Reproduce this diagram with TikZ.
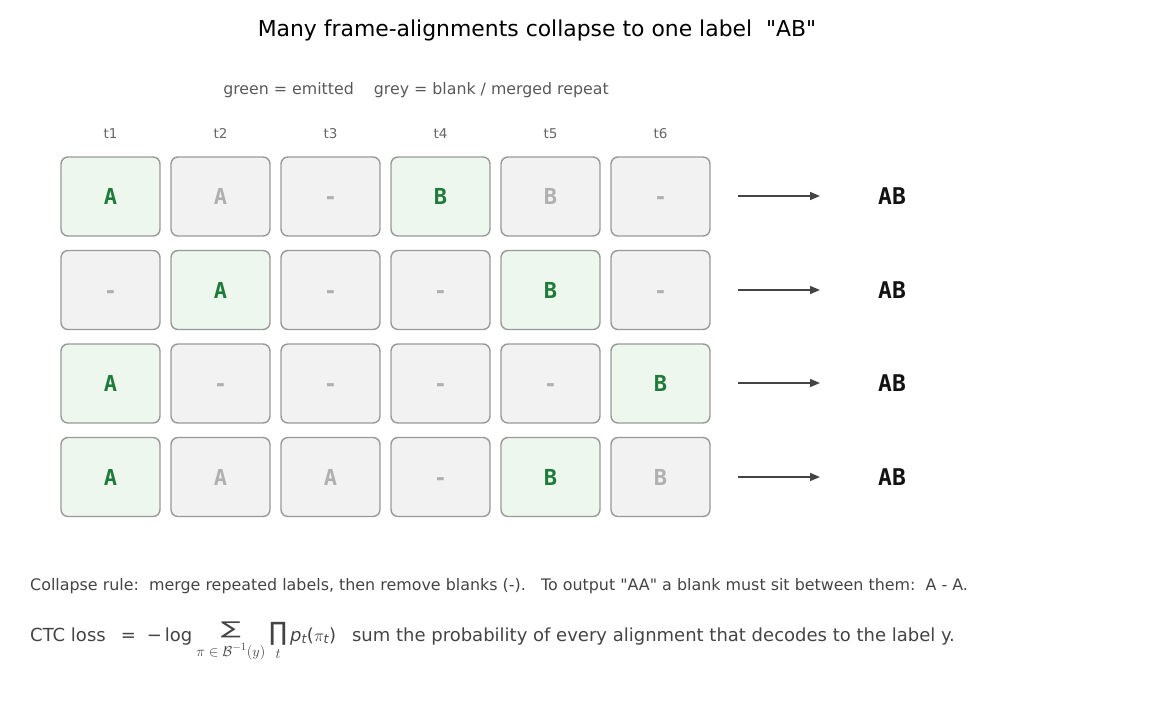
\documentclass[tikz,border=0pt]{standalone}
\usepackage{amsmath}
\usepackage{graphicx}
\usepackage{fontspec}
\setmainfont{DejaVu Sans}
\setmonofont{DejaVu Sans Mono}
\usetikzlibrary{arrows.meta}
\definecolor{emitfill}{HTML}{EDF7ED}
\definecolor{emittext}{HTML}{1E7B3A}
\definecolor{blankfill}{HTML}{F2F2F2}
\definecolor{cellline}{HTML}{999999}
\definecolor{blanktext}{HTML}{B0B0B0}
\definecolor{notetext}{HTML}{444444}
\newcommand{\bigsumop}{\mathop{\raisebox{3pt}[19pt][4pt]{\raisebox{\depth}{\resizebox*{20pt}{16pt}{∑}}}}\limits}
\newcommand{\bigprodop}{\mathop{\raisebox{-4pt}[19pt][6pt]{\raisebox{\depth}{\resizebox*{18pt}{23pt}{∏}}}}\limits}
\newcommand{\limtext}[1]{\mbox{\fontsize{15}{16}\selectfont$#1$}}

\begin{document}
\begin{tikzpicture}[x=1pt,y=-1pt,
	cell/.style={draw=cellline,line width=1.4pt,rounded corners=7pt,minimum width=99pt,minimum height=79pt,inner sep=0pt,text height=16pt,text depth=0pt,font=\fontsize{22}{24}\selectfont\ttfamily\bfseries},
	emitcell/.style={cell,fill=emitfill,text=emittext},
	blankcell/.style={cell,fill=blankfill,text=blanktext},
	tlabel/.style={text=black!60,text height=10pt,text depth=0pt,font=\fontsize{13.5}{16}\selectfont},
	outlabel/.style={font=\fontsize{23}{26}\selectfont\ttfamily\bfseries,text=black!93},
	arrow/.style={-{Triangle[length=10pt,width=8pt]},line width=1.6pt,draw=notetext}]
	    \useasboundingbox (0,0) rectangle (1170,702);
	    \node(title) at (537,30) {\fontsize{21.9}{24}\selectfont Many frame-alignments collapse to one label\ \ \textquotedbl AB\textquotedbl};
	    \node(legend) [text=black!65] at (416,90) {\fontsize{15.8}{18}\selectfont green = emitted\ \ \ \ grey = blank / merged repeat};
	    \foreach \c in {1,...,6}
	        \node(t\c) [tlabel] at ({110.5+110*(\c-1)},133) {t\c};
	    \foreach [count=\r] \row in {
	        {emitcell/A,blankcell/A,blankcell/-,emitcell/B,blankcell/B,blankcell/-},
	        {blankcell/-,emitcell/A,blankcell/-,blankcell/-,emitcell/B,blankcell/-},
	        {emitcell/A,blankcell/-,blankcell/-,blankcell/-,blankcell/-,emitcell/B},
	        {emitcell/A,blankcell/A,blankcell/A,blankcell/-,emitcell/B,blankcell/B}}{
	        \foreach [count=\c] \s/\l in \row
	            \node(c\r\c) [\s] at ({110.5+110*(\c-1)},{196.5+93.5*(\r-1)}) {\l};
	        \coordinate(a\r) at (738,{floor(196.5+93.5*(\r-1))});
	        \coordinate(b\r) at (820,{floor(196.5+93.5*(\r-1))});
	        \node(out\r) [outlabel] at (892,{196.5+93.5*(\r-1)}) {AB};
	        \draw[arrow] (a\r) -- (b\r);
	    }
	    \node(rule) [anchor=base west,inner sep=0pt,text=notetext] at (30,590) {\fontsize{15.9}{18}\selectfont Collapse rule:\ \ merge repeated labels, then remove blanks (-).\ \ \ To output \textquotedbl AA\textquotedbl\ a blank must sit between them:\ \ A - A.};
	    \node(loss) [anchor=base west,inner sep=0pt,text=notetext] at (30,641) {\fontsize{18}{20}\selectfont CTC loss\hspace{15pt}=\hspace{11pt}−\hspace{3pt}log\hspace{4pt}$\bigsumop_{\limtext{\pi\in\mathcal{B}^{-1}(y)}}\hspace{1pt}\bigprodop_{\limtext{t}}$\hspace{3pt}\textit{p}$_{\textit{t}}$($\pi_{\textit{t}}$)\hspace{16pt}sum the probability of every alignment that decodes to the label y.};
	  \end{tikzpicture}
\end{document}
